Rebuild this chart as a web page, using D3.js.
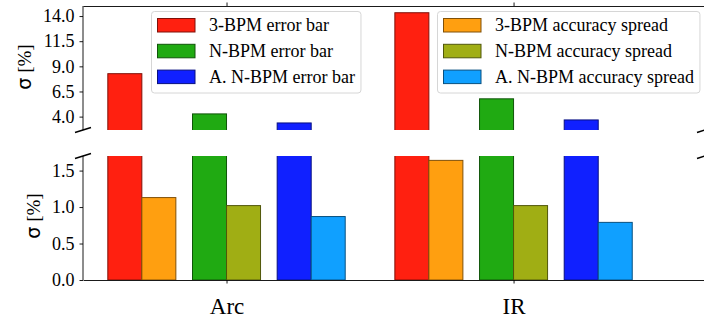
<!DOCTYPE html>
<html>
<head>
<meta charset="utf-8">
<script src="https://cdn.jsdelivr.net/npm/d3@7"></script>
<style>
  body { margin: 0; background: #fff; }
  svg { display: block; }
  text { font-family: "Liberation Serif", "Times New Roman", serif; fill: #000; }
</style>
</head>
<body>
<svg id="chart"></svg>
<script>
// data
const groups = ["Arc", "IR"];
const errorNames = ["3-BPM error bar", "N-BPM error bar", "A. N-BPM error bar"];
const spreadNames = ["3-BPM accuracy spread", "N-BPM accuracy spread", "A. N-BPM accuracy spread"];
const errorColors = ["#ff2010", "#20aa12", "#1020ff"];
const spreadColors = ["#ff9f10", "#a0ae14", "#10a0ff"];
const error3 = [8.27, 14.33];
const errorN = [4.27, 5.77];
const errorA = [3.37, 3.67];
const spread3 = [1.13, 1.64];
const spreadN = [1.02, 1.02];
const spreadA = [0.87, 0.79];
const topTicks = [4.0, 6.5, 9.0, 11.5, 14.0];
const bottomTicks = [0.0, 0.5, 1.0, 1.5];

const errorVals = [error3, errorN, errorA];
const spreadVals = [spread3, spreadN, spreadA];

const W = 704, H = 324;
const left = 83, right = 705;
const topPanel = { y0: 6, y1: 130 };
const botPanel = { y0: 156, y1: 280 };
const barW = 0.1185, pairStep = 0.295;

const svg = d3.select("#chart").attr("width", W).attr("height", H);

const x = d3.scaleLinear().domain([-0.5, 1.667]).range([left, right]);
const yTop = d3.scaleLinear().domain([2.67, 15.0]).range([topPanel.y1, topPanel.y0]);
const yBot = d3.scaleLinear().domain([0, 1.7]).range([botPanel.y1, botPanel.y0]);

const edge = c => d3.interpolateRgb(c, "#000")(0.5);

// flatten bars
const bars = [];
groups.forEach((g, gi) => {
  for (let s = 0; s < 3; s++) {
    const c = gi + (s - 1) * pairStep;
    bars.push({ x0: c - barW, v: errorVals[s][gi], color: errorColors[s] });
    bars.push({ x0: c, v: spreadVals[s][gi], color: spreadColors[s] });
  }
});

const defs = svg.append("defs");
defs.append("clipPath").attr("id", "clipTop").append("rect")
  .attr("x", left).attr("y", topPanel.y0).attr("width", right - left).attr("height", topPanel.y1 - topPanel.y0);
defs.append("clipPath").attr("id", "clipBot").append("rect")
  .attr("x", left).attr("y", botPanel.y0).attr("width", right - left).attr("height", botPanel.y1 - botPanel.y0);

function drawBars(y, clip, lo) {
  svg.append("g").attr("clip-path", `url(#${clip})`)
    .selectAll("rect")
    .data(bars)
    .join("rect")
    .attr("x", d => x(d.x0))
    .attr("width", d => x(d.x0 + barW) - x(d.x0))
    .attr("y", d => y(d.v))
    .attr("height", d => Math.max(0, y(lo) - y(d.v)))
    .attr("fill", d => d.color)
    .attr("stroke", d => edge(d.color))
    .attr("stroke-width", 1);
}
drawBars(yTop, "clipTop", 0);
drawBars(yBot, "clipBot", 0);

// y axes
function styleAxis(g) {
  g.selectAll(".tick text").style("font-size", "18px").style("font-family", "'Liberation Serif', serif");
  g.selectAll(".tick line").attr("stroke", "#000").attr("stroke-width", 0.9);
  g.select(".domain").attr("stroke", "#000").attr("stroke-width", 0.9);
}
svg.append("g")
  .attr("transform", `translate(${left},0)`)
  .call(d3.axisLeft(yTop).tickValues(topTicks).tickFormat(d3.format(".1f")).tickSize(3.5).tickPadding(5).tickSizeOuter(0))
  .call(g => g.select(".domain").attr("d", `M0,${topPanel.y0}V${topPanel.y1}`))
  .call(styleAxis);
svg.append("g")
  .attr("transform", `translate(${left},0)`)
  .call(d3.axisLeft(yBot).tickValues(bottomTicks).tickFormat(d3.format(".1f")).tickSize(3.5).tickPadding(5).tickSizeOuter(0))
  .call(g => g.select(".domain").attr("d", `M0,${botPanel.y0}V${botPanel.y1}`))
  .call(styleAxis);

// right spines
svg.append("line").attr("x1", right).attr("x2", right).attr("y1", topPanel.y0).attr("y2", topPanel.y1).attr("stroke", "#000");
svg.append("line").attr("x1", right).attr("x2", right).attr("y1", botPanel.y0).attr("y2", botPanel.y1).attr("stroke", "#000");

// x axes
svg.append("g")
  .attr("transform", `translate(0,${topPanel.y0})`)
  .call(d3.axisTop(x).tickValues([0, 1]).tickFormat("").tickSize(3.5).tickSizeOuter(0))
  .call(styleAxis);
svg.append("g")
  .attr("transform", `translate(0,${botPanel.y1})`)
  .call(d3.axisBottom(x).tickValues([0, 1]).tickFormat((d, i) => groups[i]).tickSize(3.5).tickPadding(14).tickSizeOuter(0))
  .call(styleAxis)
  .call(g => g.selectAll(".tick text").style("font-size", "23px"));

// break marks
const marks = [[left, topPanel.y1], [left, botPanel.y0], [right, topPanel.y1], [right, botPanel.y0]];
svg.append("g").selectAll("line").data(marks).join("line")
  .attr("x1", d => d[0] - 8).attr("y1", d => d[1] + 2.5)
  .attr("x2", d => d[0] + 8).attr("y2", d => d[1] - 2.5)
  .attr("stroke", "#000").attr("stroke-width", 1.5);

// y labels
function yLabel(cx, cy) {
  const t = svg.append("text")
    .attr("transform", `translate(${cx},${cy}) rotate(-90)`)
    .attr("text-anchor", "middle")
    .style("font-size", "19px");
  t.append("tspan").style("font-family", "'DejaVu Sans', sans-serif").text("σ");
  t.append("tspan").style("font-family", "'Liberation Serif', serif").text(" [%]");
}
yLabel(31, 67);
yLabel(40, 216);

// legends
function legend(x0, names, colors) {
  const g = svg.append("g").attr("transform", `translate(${x0},11.5)`);
  const tw = [];
  const items = g.selectAll("g.item").data(names).join("g")
    .attr("transform", (d, i) => `translate(0,${i * 25.8})`);
  items.append("rect")
    .attr("x", 6).attr("y", 7).attr("width", 37.5).attr("height", 13.5)
    .attr("fill", (d, i) => colors[i]).attr("stroke", (d, i) => edge(colors[i])).attr("stroke-width", 1);
  items.append("text")
    .attr("x", 57.5).attr("y", 19.5)
    .style("font-size", "18px")
    .text(d => d)
    .each(function () { tw.push(this.getComputedTextLength()); });
  const w = 57.5 + d3.max(tw) + 6;
  g.insert("rect", ":first-child")
    .attr("x", 0).attr("y", 0).attr("width", w).attr("height", 81.5)
    .attr("rx", 3).attr("fill", "#fff").attr("fill-opacity", 0.8)
    .attr("stroke", "#d6d6d6").attr("stroke-width", 1);
}
legend(151.5, errorNames, errorColors);
legend(437.5, spreadNames, spreadColors);
</script>
</body>
</html>
